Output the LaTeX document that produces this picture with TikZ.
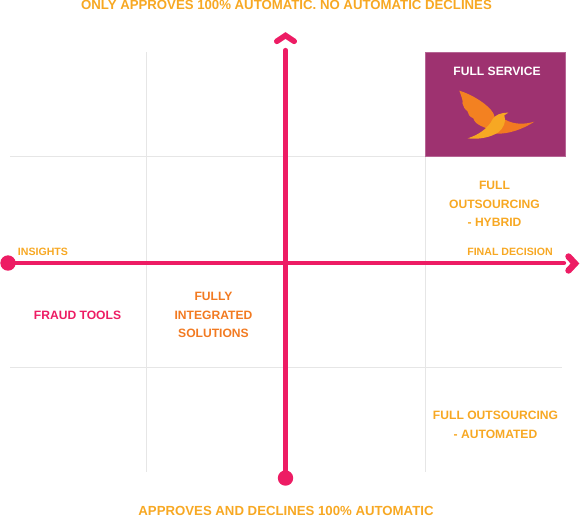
\documentclass[tikz,border=0pt]{standalone}
\usepackage{fontspec}
\setmainfont{Liberation Sans}
\definecolor{pinkax}{HTML}{ED1C64}
\definecolor{amberT}{HTML}{F7A823}
\definecolor{orangeT}{HTML}{F27A21}
\definecolor{gridc}{HTML}{E6E6E6}
\definecolor{plum}{HTML}{9E3270}
\begin{document}
\begin{tikzpicture}[x=1pt,y=-1pt,
  gridline/.style={gridc,line width=0.9pt},
  axis/.style={pinkax,line width=4.2pt},
  chev/.style={pinkax,line cap=round,miter limit=10},
  lab/.style={font=\bfseries\fontsize{12.1}{18.5}\selectfont,align=center,inner sep=0pt},
  big/.style={font=\bfseries\fontsize{13.2}{16}\selectfont,inner sep=0pt},
  small/.style={font=\bfseries\fontsize{10.6}{13}\selectfont,inner sep=0pt}]
\useasboundingbox (0,0) rectangle (580,517);
\draw[gridline] (146,52) -- (146,472);
\draw[gridline] (425,52) -- (425,472);
\draw[gridline] (10,156) -- (562,156);
\draw[gridline] (10,367) -- (562,367);
\node[fill=plum,draw=plum!75!white,line width=0.7pt,minimum width=140pt,minimum height=104pt,inner sep=0pt] (box) at (495,104) {};
\node[lab,white] (fs) at (497,71) {FULL SERVICE};
% bird
\begin{scope}[shift={(455,85)},x=0.3333pt,y=-0.3333pt]
\fill[orangeT!85!amberT] (13,17) .. controls (50,28) and (100,58) .. (115,85) .. controls (124,100) and (120,118) .. (105,134) -- (85,126) .. controls (70,120) and (58,112) .. (55,100) .. controls (45,96) and (38,88) .. (37,78) .. controls (30,74) and (24,64) .. (22,54) .. controls (26,54) and (20,36) .. (13,17) -- cycle;
\fill[orangeT] (122,146) .. controls (160,148) and (205,132) .. (238,110) .. controls (210,118) and (180,120) .. (150,104) -- cycle;
\fill[amberT] (38,160) .. controls (70,150) and (100,130) .. (113,102) .. controls (122,90) and (135,83) .. (160,83) -- (148,91) .. controls (155,110) and (145,130) .. (130,142) .. controls (105,158) and (70,164) .. (38,160) -- cycle;
\end{scope}
% axes
\coordinate (xstart) at (8,263);
\coordinate (xend) at (564,263);
\coordinate (ystart) at (285.5,478);
\coordinate (yend) at (285.5,50);
\draw[axis,line cap=round] (xstart) -- (xend);
\draw[axis,line cap=round] (ystart) -- (yend);
\fill[pinkax] (xstart) circle (7.7);
\fill[pinkax] (ystart) circle (7.7);
\draw[chev,line width=5.6pt] (276.8,41.3) -- (285.5,35.5) -- (294.2,41.3);
\draw[chev,line width=6.4pt] (568.5,256.5) -- (575,263.5) -- (568.5,270.5);
% labels
\node[big,amberT] (top) at (286.5,5) {ONLY APPROVES 100\% AUTOMATIC. NO AUTOMATIC DECLINES};
\node[big,amberT,anchor=base] (bottom) at (286,515.5) {APPROVES AND DECLINES 100\% AUTOMATIC};
\node[small,amberT] (ins) at (43,252) {INSIGHTS};
\node[small,amberT] (fin) at (510,252) {FINAL DECISION};
\node[lab,pinkax] (fraud) at (77.5,315.5) {FRAUD TOOLS};
\node[lab,orangeT] (fis) at (213.5,315.3) {FULLY\\INTEGRATED\\SOLUTIONS};
\node[lab,amberT] (hyb) at (494.5,204.3) {FULL\\OUTSOURCING\\- HYBRID};
\node[lab,amberT] (aut) at (495.5,424.8) {FULL OUTSOURCING\\- AUTOMATED};
\end{tikzpicture}
\end{document}
